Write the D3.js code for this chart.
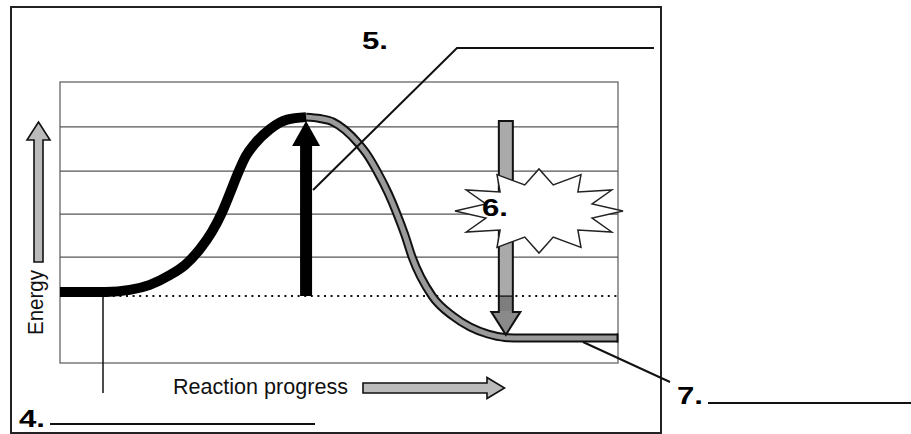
<!DOCTYPE html>
<html><head><meta charset="utf-8">
<script src="https://cdn.jsdelivr.net/npm/d3@7"></script>
<style>
html,body{margin:0;padding:0;background:#fff;}
svg{display:block;}
</style></head>
<body>
<svg id="chart" width="911" height="434"></svg>
<script>
// ---------- data (reaction progress 0..100, energy 0..100) ----------
const reactantProgress = [0, 8.2, 12.5, 16.1, 19.7, 22.4, 25.1, 27.2, 29.0, 30.5, 31.9, 33.3, 34.9, 37.6, 40.7, 44.1];
const reactantEnergy   = [25.3, 25.3, 26.0, 27.8, 31.3, 34.9, 40.6, 46.6, 53.4, 60.6, 67.6, 73.6, 78.0, 83.2, 86.6, 87.5];
const productProgress  = [44.1, 46.6, 48.9, 51.1, 53.4, 55.2, 56.8, 58.8, 60.4, 61.8, 63.1, 66.7, 70.4, 73.5, 76.7, 79.7, 82.4, 100];
const productEnergy    = [87.5, 87.0, 85.8, 82.9, 78.3, 73.7, 68.3, 60.5, 53.0, 45.6, 37.7, 23.8, 16.7, 12.8, 10.3, 9.1, 8.9, 8.9];
const gridEnergies = [37.7, 53, 68.3, 84];
const reactantLevel = 23.8;        // dotted reference line
const activationArrow = {x: 44.1, from: 23.8, to: 86.1};
const enthalpyArrow   = {x: 79.9, from: 86.1, to: 10};
const blankLabels = ["4.", "5.", "6.", "7."];
const axisLabels = ["Energy", "Reaction progress"];

// ---------- setup ----------
const svg = d3.select("#chart");
const x = d3.scaleLinear().domain([0, 100]).range([60, 618]);
const y = d3.scaleLinear().domain([0, 100]).range([363, 82]);

// outer frame
svg.append("rect").attr("x", 11).attr("y", 7).attr("width", 650).attr("height", 426)
  .attr("fill", "none").attr("stroke", "#222").attr("stroke-width", 2);

// plot area border + grid
svg.append("rect").attr("x", x(0)).attr("y", y(100)).attr("width", x(100) - x(0)).attr("height", y(0) - y(100))
  .attr("fill", "none").attr("stroke", "#666").attr("stroke-width", 1.3);
svg.append("g").selectAll("line").data(gridEnergies).join("line")
  .attr("x1", x(0)).attr("x2", x(100)).attr("y1", d => y(d)).attr("y2", d => y(d))
  .attr("stroke", "#555").attr("stroke-width", 1.3);

// dotted line
svg.append("line").attr("x1", x(0)).attr("x2", x(100)).attr("y1", y(reactantLevel)).attr("y2", y(reactantLevel))
  .attr("stroke", "#111").attr("stroke-width", 2).attr("stroke-dasharray", "2,4.6");

// leader line for 4
svg.append("line").attr("x1", 103).attr("x2", 103).attr("y1", y(reactantLevel)).attr("y2", 393)
  .attr("stroke", "#111").attr("stroke-width", 1.5);

const line = d3.line().x(d => x(d[0])).y(d => y(d[1])).curve(d3.curveMonotoneX);
const reactPts = reactantProgress.map((p, i) => [p, reactantEnergy[i]]);
const prodPts = productProgress.map((p, i) => [p, productEnergy[i]]);

// product curve (grey with black outline)
svg.append("path").attr("d", line(prodPts)).attr("fill", "none").attr("stroke", "#111").attr("stroke-width", 9);
svg.append("path").attr("d", line(prodPts)).attr("fill", "none").attr("stroke", "#9a9a9a").attr("stroke-width", 5);
svg.append("line").attr("x1", x(100) - 0.5).attr("x2", x(100) - 0.5)
  .attr("y1", y(productEnergy[productEnergy.length - 1]) - 4.5).attr("y2", y(productEnergy[productEnergy.length - 1]) + 4.5)
  .attr("stroke", "#111").attr("stroke-width", 2);

// reactant curve (thick black)
svg.append("path").attr("d", line(reactPts)).attr("fill", "none").attr("stroke", "#000").attr("stroke-width", 10);

// vertical arrow helper
function arrowPath(cx, yStart, yTip, shaftHalf, headHalf, headLen) {
  const dir = yTip < yStart ? -1 : 1;
  const base = yTip - dir * headLen;
  return `M${cx - shaftHalf},${yStart} L${cx - shaftHalf},${base} L${cx - headHalf},${base} L${cx},${yTip} ` +
         `L${cx + headHalf},${base} L${cx + shaftHalf},${base} L${cx + shaftHalf},${yStart} Z`;
}

// activation energy arrow (black)
svg.append("path")
  .attr("d", arrowPath(x(activationArrow.x), y(activationArrow.from), y(activationArrow.to), 6, 14, 25))
  .attr("fill", "#000");

// enthalpy arrow (grey, pointing down)
const ex = x(enthalpyArrow.x), eTop = y(enthalpyArrow.from), eTip = y(enthalpyArrow.to);
const eBase = eTip - 23;
svg.append("rect").attr("x", ex - 7).attr("y", eTop).attr("width", 14).attr("height", y(reactantLevel) - eTop).attr("fill", "#aaa");
svg.append("rect").attr("x", ex - 7).attr("y", y(reactantLevel)).attr("width", 14).attr("height", eBase - y(reactantLevel)).attr("fill", "#7e7e7e");
svg.append("path").attr("d", `M${ex - 14.5},${eBase} L${ex},${eTip} L${ex + 14.5},${eBase} Z`).attr("fill", "#8a8a8a");
svg.append("line").attr("x1", ex - 7).attr("x2", ex + 7).attr("y1", y(reactantLevel)).attr("y2", y(reactantLevel)).attr("stroke", "#222").attr("stroke-width", 1.5);
svg.append("path").attr("d", arrowPath(ex, eTop, eTip, 7, 14.5, 23))
  .attr("fill", "none").attr("stroke", "#111").attr("stroke-width", 2).attr("stroke-linejoin", "miter");

// starburst
const starC = [539, 211], spikes = 12;
const starPts = d3.range(spikes * 2).map(i => {
  const a = i * Math.PI / spikes;
  const outer = i % 2 === 0;
  const rx = outer ? 84 : 55, ry = outer ? 42 : 27;
  return [starC[0] + rx * Math.cos(a), starC[1] - ry * Math.sin(a)];
});
svg.append("path").attr("d", "M" + starPts.join("L") + "Z")
  .attr("fill", "#fff").attr("stroke", "#222").attr("stroke-width", 1.5).attr("stroke-linejoin", "miter");

// energy axis arrow (up)
svg.append("path").attr("d", arrowPath(38.5, 262, 122, 4.5, 11.5, 18))
  .attr("fill", "#bbb").attr("stroke", "#111").attr("stroke-width", 1.6);
// progress arrow (right)
svg.append("path").attr("d", "M363,383 L487,383 L487,377.5 L504.5,388 L487,398.5 L487,393 L363,393 Z")
  .attr("fill", "#bbb").attr("stroke", "#111").attr("stroke-width", 1.6);

// axis labels
svg.append("text").text(axisLabels[1]).attr("x", 173).attr("y", 394)
  .attr("font-family", "'Liberation Sans Narrow','Arial Narrow','Liberation Sans',sans-serif").attr("font-size", 22)
  .attr("textLength", 175).attr("lengthAdjust", "spacingAndGlyphs").attr("fill", "#111");
svg.append("text").text(axisLabels[0]).attr("transform", "translate(43,335) rotate(-90)")
  .attr("font-family", "'Liberation Sans Narrow','Arial Narrow','Liberation Sans',sans-serif").attr("font-size", 22)
  .attr("textLength", 65).attr("lengthAdjust", "spacingAndGlyphs").attr("fill", "#111");

// leader lines
const lead = svg.append("g").attr("stroke", "#111").attr("fill", "none");
lead.append("path").attr("d", `M${x(activationArrow.x) + 7},190 L457,48 L654,48`).attr("stroke-width", 2);
lead.append("line").attr("x1", 50).attr("x2", 315).attr("y1", 424).attr("y2", 424).attr("stroke-width", 2.2);
lead.append("line").attr("x1", 583).attr("y1", 342).attr("x2", 670).attr("y2", 382).attr("stroke-width", 2);
lead.append("line").attr("x1", 708).attr("x2", 911).attr("y1", 403).attr("y2", 403).attr("stroke-width", 2.2);

// blank labels
const labPos = [[19, 427], [362, 49], [482, 216], [677, 404]];
svg.append("g").selectAll("text").data(blankLabels).join("text")
  .text(d => d).attr("x", (d, i) => labPos[i][0]).attr("y", (d, i) => labPos[i][1])
  .attr("font-family", "'Liberation Sans',Arial,sans-serif").attr("font-weight", "bold").attr("font-size", 23)
  .attr("textLength", 26).attr("lengthAdjust", "spacingAndGlyphs").attr("fill", "#000");
</script>
</body></html>
